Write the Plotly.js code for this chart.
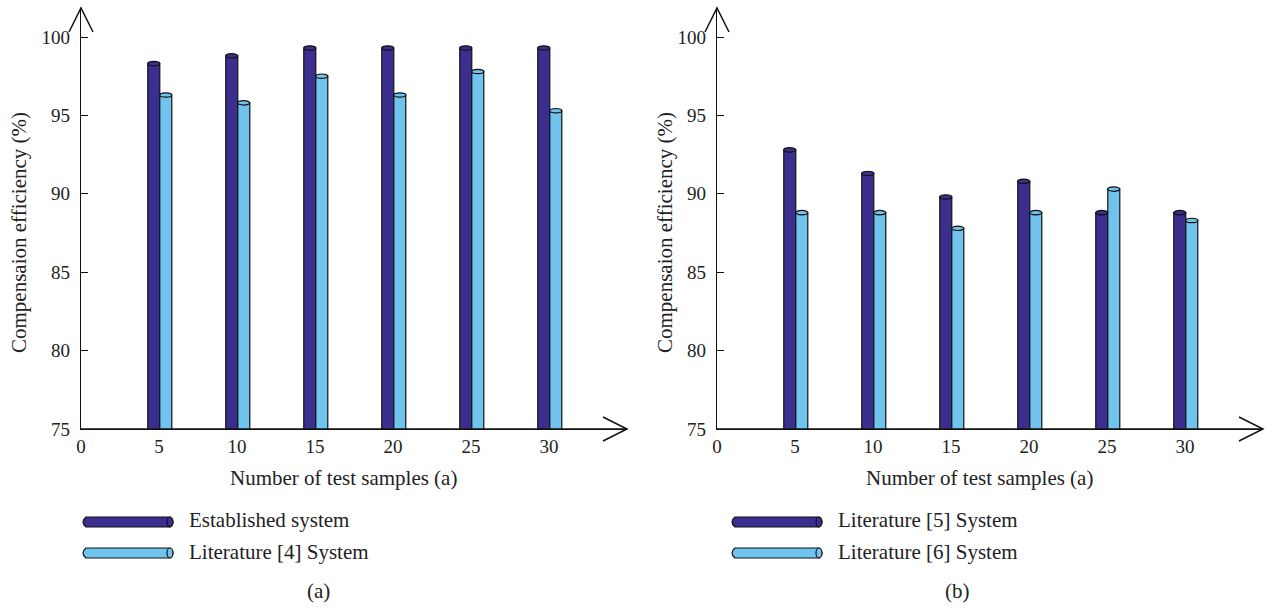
<!DOCTYPE html>
<html><head><meta charset="utf-8">
<script src="https://cdn.plot.ly/plotly-3.0.1.min.js"></script>
<style>html,body{margin:0;padding:0;background:#fff}#chart{width:1266px;height:608px}</style>
</head><body><div id="chart"></div>
<script>
// ---- data ----
const samples = [5, 10, 15, 20, 25, 30];
const xTicks = [0, 5, 10, 15, 20, 25, 30];
const yTicks = [75, 80, 85, 90, 95, 100];
const establishedSystem = [98.3, 98.8, 99.3, 99.3, 99.3, 99.3];
const literature4System = [96.3, 95.8, 97.5, 96.3, 97.8, 95.3];
const literature5System = [92.8, 91.3, 89.8, 90.8, 88.8, 88.8];
const literature6System = [88.8, 88.8, 87.8, 88.8, 90.3, 88.3];
const namesA = ['Established system', 'Literature [4] System'];
const namesB = ['Literature [5] System', 'Literature [6] System'];

// ---- style ----
const W = 1266, H = 608;
const px = x => x / W, py = y => 1 - y / H;
const DARK = '#3a2e8f', LIGHT = '#6fc3ed';
const FONT = 'Liberation Serif, Times New Roman, serif';
const BW = 0.77, OFF = 0.72;

function barTrace(vals, color, xa, ya, offset) {
  return {type: 'bar', x: samples, y: vals, xaxis: xa, yaxis: ya,
    width: BW, offset: offset, showlegend: false, hoverinfo: 'x+y',
    marker: {color: color, line: {color: '#111', width: 1.2}}};
}
const data = [
  barTrace(establishedSystem, DARK, 'x', 'y', -OFF),
  barTrace(literature4System, LIGHT, 'x', 'y', BW - OFF),
  barTrace(literature5System, DARK, 'x2', 'y2', -OFF),
  barTrace(literature6System, LIGHT, 'x2', 'y2', BW - OFF)
];

// cylinder tops
const shapes = [];
function tops(vals, color, xr, yr, offset) {
  samples.forEach((s, i) => {
    shapes.push({type: 'circle', xref: xr, yref: yr,
      x0: s + offset, x1: s + offset + BW, y0: vals[i] - 0.14, y1: vals[i] + 0.14,
      fillcolor: color, line: {color: '#111', width: 1.2}});
  });
}
tops(establishedSystem, DARK, 'x', 'y', -OFF);
tops(literature4System, LIGHT, 'x', 'y', BW - OFF);
tops(literature5System, DARK, 'x2', 'y2', -OFF);
tops(literature6System, LIGHT, 'x2', 'y2', BW - OFF);

// arrowheads
function arrowUp(xp, yp) {
  shapes.push({type: 'path', xref: 'paper', yref: 'paper',
    path: `M${px(xp-12)},${py(yp+24)} L${px(xp)},${py(yp)} L${px(xp+12)},${py(yp+24)}`,
    line: {color: '#111', width: 1.5}});
}
function arrowRight(xp, yp) {
  shapes.push({type: 'path', xref: 'paper', yref: 'paper',
    path: `M${px(xp-24)},${py(yp-12)} L${px(xp)},${py(yp)} L${px(xp-24)},${py(yp+12)}`,
    line: {color: '#111', width: 1.5}});
}
arrowUp(81, 8); arrowRight(627, 429);
arrowUp(717, 8); arrowRight(1263, 429);
shapes.push({type:'line', xref:'paper', yref:'paper', x0:px(81), x1:px(627), y0:py(429), y1:py(429), line:{color:'#111', width:1.3}});
shapes.push({type:'line', xref:'paper', yref:'paper', x0:px(717), x1:px(1263), y0:py(429), y1:py(429), line:{color:'#111', width:1.3}});

// legend cylinders
function legCyl(x0, x1, yc, color) {
  const h = 5, r = 3;
  shapes.push({type: 'path', xref: 'paper', yref: 'paper',
    path: `M${px(x0+r)},${py(yc-h)} L${px(x1-r)},${py(yc-h)} Q${px(x1+r)},${py(yc)} ${px(x1-r)},${py(yc+h)} L${px(x0+r)},${py(yc+h)} Q${px(x0-r)},${py(yc)} ${px(x0+r)},${py(yc-h)} Z`,
    fillcolor: color, line: {color: '#111', width: 1.2}});
  shapes.push({type: 'circle', xref: 'paper', yref: 'paper',
    x0: px(x1-6), x1: px(x1), y0: py(yc+h), y1: py(yc-h),
    fillcolor: color, line: {color: '#111', width: 1.2}});
}
legCyl(83, 173, 522, DARK); legCyl(83, 173, 553, LIGHT);
legCyl(732, 822, 522, DARK); legCyl(732, 822, 553, LIGHT);

const tf = {family: FONT, size: 19, color: '#222'};
const ann = (text, x, y, opts) => Object.assign({text: text, xref: 'paper', yref: 'paper',
  x: px(x), y: py(y), xanchor: 'center', yanchor: 'middle', showarrow: false,
  font: {family: FONT, size: 21, color: '#222'}}, opts || {});
const annotations = [
  ann('Compensaion efficiency (%)', 19, 233, {textangle: -90}),
  ann('Compensaion efficiency (%)', 665, 233, {textangle: -90}),
  ann('Number of test samples (a)', 343, 478),
  ann('Number of test samples (a)', 979, 478),
  ann(namesA[0], 187, 520, {xanchor: 'left'}),
  ann(namesA[1], 187, 552, {xanchor: 'left'}),
  ann(namesB[0], 836, 520, {xanchor: 'left'}),
  ann(namesB[1], 836, 552, {xanchor: 'left'}),
  ann('(a)', 318, 591),
  ann('(b)', 957, 591)
];

function xAxis(dom, anchor) {
  return {domain: dom, range: [0, 35], anchor: anchor, showline: true, linecolor: '#111', linewidth: 1.3,
    ticks: '', tickvals: xTicks, tickfont: tf, showgrid: false, zeroline: false, fixedrange: true};
}
function yAxis(anchor) {
  return {domain: [py(429), py(8)], range: [75, 101.85], anchor: anchor, showline: true, linecolor: '#111', linewidth: 1.3,
    ticks: 'inside', ticklen: 7, tickcolor: '#111', tickvals: yTicks, tickfont: tf, ticklabelstandoff: 6,
    showgrid: false, zeroline: false, fixedrange: true};
}
const layout = {
  width: W, height: H, margin: {l: 0, r: 0, t: 0, b: 0},
  paper_bgcolor: '#fff', plot_bgcolor: 'rgba(0,0,0,0)',
  xaxis: xAxis([px(81), px(627)], 'y'),
  yaxis: yAxis('x'),
  xaxis2: xAxis([px(717), px(1263)], 'y2'),
  yaxis2: yAxis('x2'),
  shapes: shapes, annotations: annotations, showlegend: false
};
Plotly.newPlot('chart', data, layout, {displayModeBar: false, staticPlot: true});
</script></body></html>
